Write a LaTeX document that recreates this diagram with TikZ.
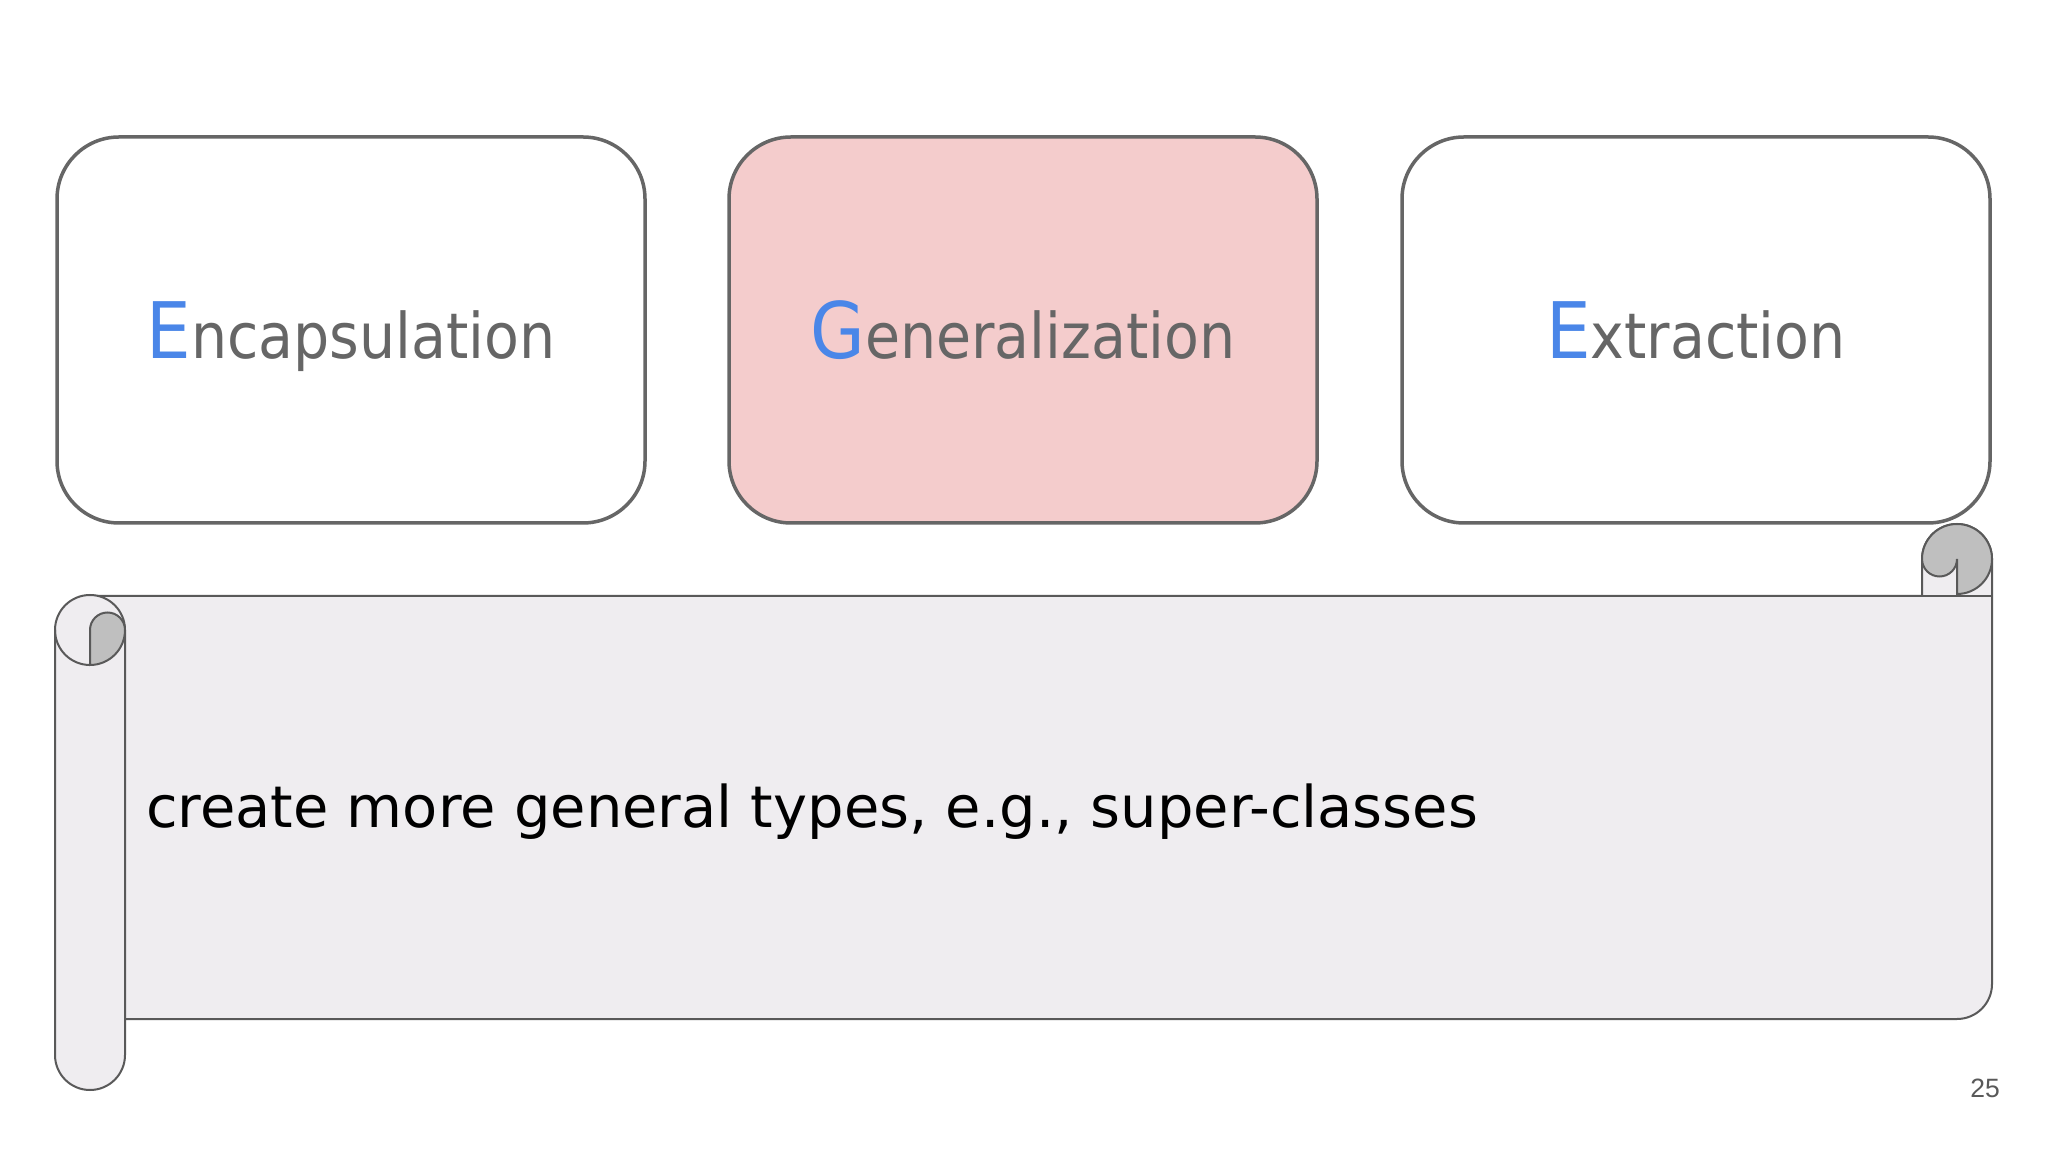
\documentclass[tikz,border=0pt]{standalone}
\usepackage{fontspec}
\setmainfont{DejaVu Sans}
\newfontfamily\topicfont[FakeStretch=0.905]{DejaVu Sans}
\newfontfamily\pagefont{Liberation Sans}
\usepackage{tikz}
\definecolor{boxline}{HTML}{666666}
\definecolor{labelgray}{HTML}{666666}
\definecolor{initialblue}{HTML}{4A86E8}
\definecolor{activefill}{HTML}{F4CCCC}
\definecolor{scrollfill}{HTML}{EFEDF0}
\definecolor{scrollline}{HTML}{595959}
\definecolor{curlgray}{HTML}{BFBFBF}
\tikzset{
  topicbox/.style={draw=boxline, line width=3.5pt, rounded corners=62pt,
    minimum width=588pt, minimum height=386pt, inner sep=0pt,
    text height=58pt, text depth=0pt, text=labelgray,
    font=\topicfont\fontsize{63}{67}\selectfont},
  scroll/.style={draw=scrollline, line width=2pt, fill=scrollfill},
  curl/.style={draw=scrollline, line width=2pt, fill=curlgray}
}
\newcommand{\firstletter}[1]{{\fontsize{78}{82}\selectfont\color{initialblue}#1}}

\begin{document}
\begin{tikzpicture}[x=1pt, y=1pt]
    \useasboundingbox[fill=white] (0,0) rectangle (2048,1152);
    % the three topics
    \node[topicbox] (encap) at (351,822) {\firstletter{E}ncapsulation};
    \node[topicbox, fill=activefill] (general) at (1023,822) {\firstletter{G}eneralization};
    \node[topicbox] (extract) at (1696,822) {\firstletter{E}xtraction};
    % scroll: body, right curl, left roll
    \draw[scroll] (90,556) -- (1922,556) -- (1922,593)
        arc[start angle=180, end angle=0, radius=35] -- (1992,168)
        arc[start angle=0, end angle=-90, radius=35] -- (90,133) -- cycle;
    \draw[curl] (1922,593) arc[start angle=180, end angle=0, radius=35]
        arc[start angle=0, end angle=-90, radius=35] -- (1957,593)
        arc[start angle=0, end angle=-180, radius=17.5] -- cycle;
    \draw[scrollline, line width=2pt] (1922,556) -- (1992,556);
    \draw[scroll] (55,522) -- (55,97) arc[start angle=180, end angle=360, radius=35]
        -- (125,522) arc[start angle=0, end angle=180, radius=35] -- cycle;
    \draw[curl] (90,522) arc[start angle=180, end angle=0, radius=17.5]
        arc[start angle=0, end angle=-90, radius=35] -- cycle;
    \draw[scrollline, line width=2pt] (55,522) arc[start angle=180, end angle=270, radius=35];
    \node[anchor=base west, inner sep=0pt, font=\fontsize{57.5}{61}\selectfont] (desc) at (146,324)
        {create more general types, e.g., super-classes};
    \node[anchor=base east, inner sep=0pt, text=scrollline, font=\pagefont\fontsize{26.5}{30}\selectfont] (pagenum) at (2000,55) {25};
\end{tikzpicture}
\end{document}
